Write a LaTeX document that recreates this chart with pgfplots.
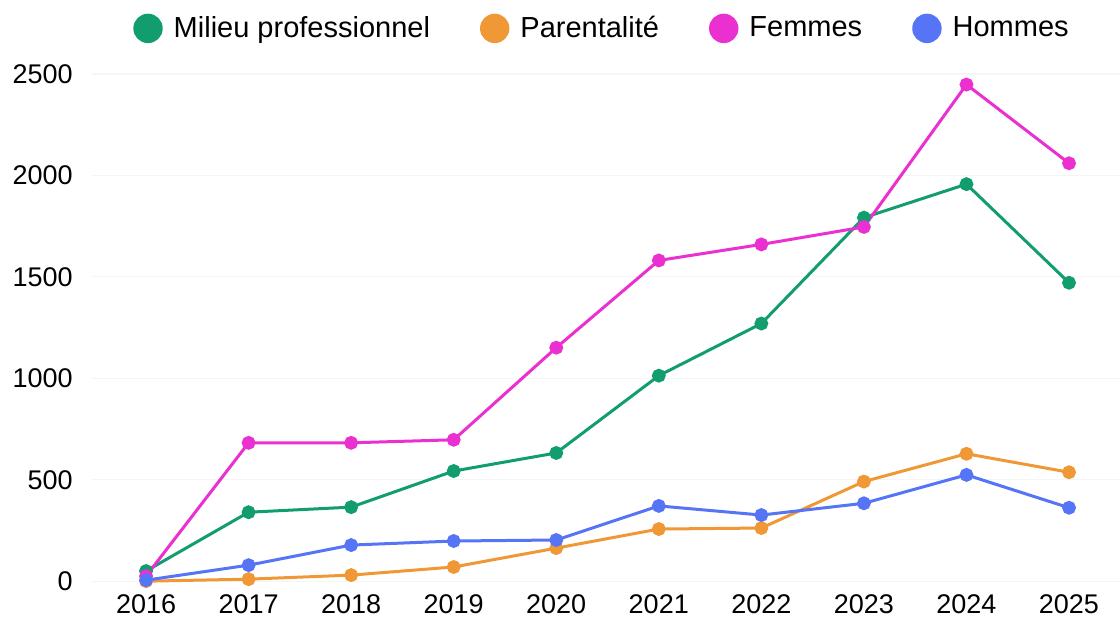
\documentclass[border=0pt]{standalone}
\usepackage{pgfplots}
\pgfplotsset{compat=1.18}
\usepackage{fontspec}
\setmainfont{Liberation Sans}
\definecolor{cgreen}{RGB}{18,157,110}
\definecolor{corange}{RGB}{240,152,54}
\definecolor{cmag}{RGB}{234,48,208}
\definecolor{cblue}{RGB}{86,116,246}
\begin{document}
\begin{tikzpicture}
\begin{axis}[
  scale only axis,
  width=514pt, height=253.6pt,
  xmin=2015.473, xmax=2025.497,
  ymin=0, ymax=2500,
  clip=false,
  axis line style={draw=none},
  major tick length=0pt,
  xtick={2016,...,2025},
  ytick={0,500,1000,1500,2000,2500},
  xticklabel style={/pgf/number format/1000 sep={}, font=\fontsize{13.5}{15}\selectfont, inner sep=0pt, anchor=north, yshift=-6.6pt},
  yticklabel style={/pgf/number format/1000 sep={}, font=\fontsize{13.5}{15}\selectfont, inner sep=0pt, anchor=east, xshift=-9.5pt},
  /pgf/number format/assume math mode=true,
  ymajorgrids,
  grid style={gray!8, line width=0.6pt},
  every axis plot/.append style={line width=1.5pt, mark=*, mark size=2.7pt},
  legend style={at={(0.5,1)}, anchor=center, yshift=22.8pt, xshift=-2.5pt, draw=none, fill=none,
    font=\fontsize{14.5}{16}\selectfont, legend columns=-1,
    nodes={inner sep=0pt},
    /tikz/every odd column/.append style={column sep=5.5pt},
    /tikz/every even column/.append style={column sep=25pt}},
  legend image code/.code={\fill[#1] (0pt,0pt) circle (6.6pt);},
]
\addplot[color=cgreen, mark options={fill=cgreen}] coordinates {
(2016,50) (2017,340) (2018,365) (2019,543) (2020,632) (2021,1013) (2022,1270) (2023,1792) (2024,1957) (2025,1471)};
\addlegendentry{Milieu professionnel}
\addplot[color=corange, mark options={fill=corange}] coordinates {
(2016,0) (2017,10) (2018,30) (2019,70) (2020,163) (2021,257) (2022,262) (2023,491) (2024,628) (2025,537)};
\addlegendentry{Parentalité}
\addplot[color=cmag, mark options={fill=cmag}] coordinates {
(2016,25) (2017,682) (2018,682) (2019,697) (2020,1151) (2021,1581) (2022,1660) (2023,1746) (2024,2448) (2025,2060)};
\addlegendentry{Femmes}
\addplot[color=cblue, mark options={fill=cblue}] coordinates {
(2016,5) (2017,79) (2018,178) (2019,198) (2020,203) (2021,371) (2022,326) (2023,384) (2024,524) (2025,362)};
\addlegendentry{Hommes}
\coordinate (ll) at (rel axis cs:0,0);
\coordinate (ur) at (rel axis cs:1,1);
\end{axis}
\pgfresetboundingbox
\path ([shift={(-46pt,-24.15pt)}]ll) rectangle ([shift={(0pt,37pt)}]ur);
\end{tikzpicture}
\end{document}
